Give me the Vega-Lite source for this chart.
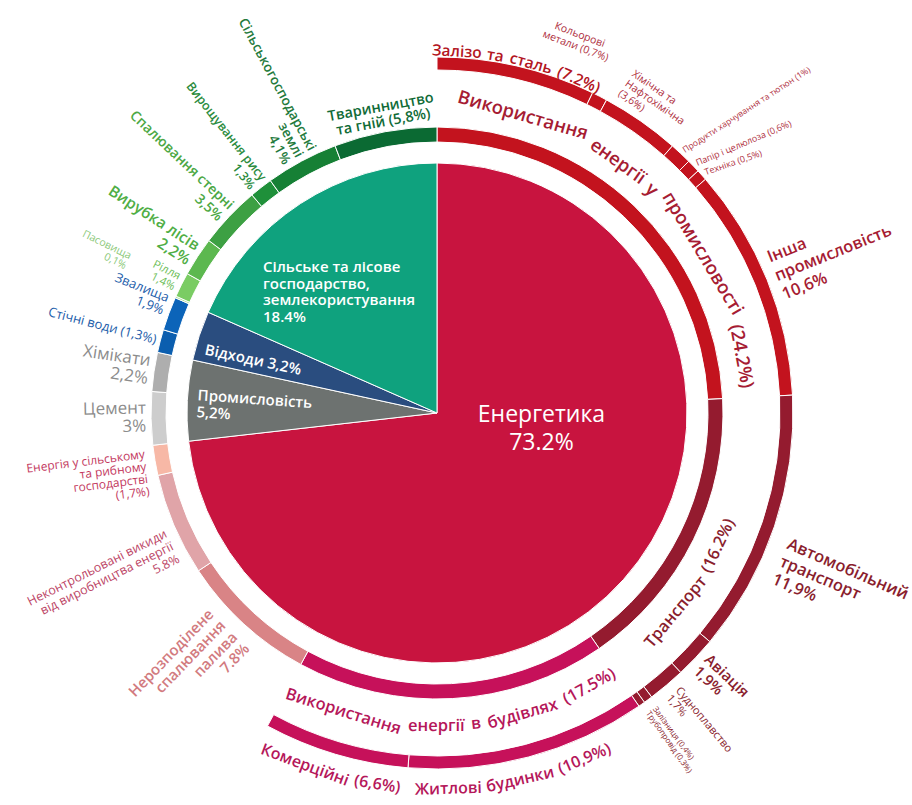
{
  "$schema": "https://vega.github.io/schema/vega-lite/v6.json",
  "width": 874,
  "height": 784,
  "autosize": "none",
  "padding": {"left": 0, "top": 21, "right": 38, "bottom": 0},
  "background": "#ffffff",
  "config": {"view": {"stroke": null}},
  "data": {"values": [
    {"ring": "pie", "name": "Енергетика", "value": 73.2, "label": "Енергетика\n73.2%"},
    {"ring": "pie", "name": "Промисловість", "value": 5.2, "label": "Промисловість\n5,2%"},
    {"ring": "pie", "name": "Відходи", "value": 3.2, "label": "Відходи 3,2%"},
    {"ring": "pie", "name": "Сільське та лісове господарство, землекористування", "value": 18.4, "label": "Сільське та лісове\nгосподарство,\nземлекористування\n18.4%"},
    {"ring": "mid", "name": "Використання енергії у промисловості", "value": 24.2, "label": "Використання енергії у промисловості (24.2%)"},
    {"ring": "mid", "name": "Транспорт", "value": 16.2, "label": "Транспорт (16.2%)"},
    {"ring": "mid", "name": "Використання енергії в будівлях", "value": 17.5, "label": "Використання енергії в будівлях (17.5%)"},
    {"ring": "mid", "name": "Нерозподілене спалювання палива", "value": 7.8, "label": "Нерозподілене\nспалювання\nпалива\n7.8%"},
    {"ring": "mid", "name": "Неконтрольовані викиди від виробництва енергії", "value": 5.8, "label": "Неконтрольовані викиди\nвід виробництва енергії\n5.8%"},
    {"ring": "mid", "name": "Енергія у сільському та рибному господарстві", "value": 1.7, "label": "Енергія у сільському\nта рибному\nгосподарстві\n(1,7%)"},
    {"ring": "mid", "name": "Цемент", "value": 3, "label": "Цемент\n3%"},
    {"ring": "mid", "name": "Хімікати", "value": 2.2, "label": "Хімікати\n2,2%"},
    {"ring": "mid", "name": "Стічні води", "value": 1.3, "label": "Стічні води (1,3%)"},
    {"ring": "mid", "name": "Звалища", "value": 1.9, "label": "Звалища\n1,9%"},
    {"ring": "mid", "name": "Пасовища", "value": 0.1, "label": "Пасовища\n0,1%"},
    {"ring": "mid", "name": "Рілля", "value": 1.4, "label": "Рілля\n1,4%"},
    {"ring": "mid", "name": "Вирубка лісів", "value": 2.2, "label": "Вирубка лісів\n2,2%"},
    {"ring": "mid", "name": "Спалювання стерні", "value": 3.5, "label": "Спалювання стерні\n3,5%"},
    {"ring": "mid", "name": "Вирощування рису", "value": 1.3, "label": "Вирощування рису\n1,3%"},
    {"ring": "mid", "name": "Сільськогосподарські землі", "value": 4.1, "label": "Сільськогосподарські\nземлі\n4,1%"},
    {"ring": "mid", "name": "Тваринництво та гній", "value": 5.8, "label": "Тваринництво\nта гній (5,8%)"},
    {"ring": "out", "name": "Залізо та сталь", "value": 7.2, "label": "Залізо та сталь (7.2%)"},
    {"ring": "out", "name": "Кольорові метали", "value": 0.7, "label": "Кольорові\nметали (0,7%)"},
    {"ring": "out", "name": "Хімічна та нафтохімічна", "value": 3.6, "label": "Хімічна та\nНафтохімічна\n(3,6%)"},
    {"ring": "out", "name": "Продукти харчування та тютюн", "value": 1, "label": "Продукти харчування та тютюн (1%)"},
    {"ring": "out", "name": "Папір і целюлоза", "value": 0.6, "label": "Папір і целюлоза (0,6%)"},
    {"ring": "out", "name": "Техніка", "value": 0.5, "label": "Техніка (0,5%)"},
    {"ring": "out", "name": "Інша промисловість", "value": 10.6, "label": "Інша\nпромисловість\n10,6%"},
    {"ring": "out", "name": "Автомобільний транспорт", "value": 11.9, "label": "Автомобільний\nтранспорт\n11,9%"},
    {"ring": "out", "name": "Авіація", "value": 1.9, "label": "Авіація\n1,9%"},
    {"ring": "out", "name": "Судноплавство", "value": 1.7, "label": "Судноплавство\n1,7%"},
    {"ring": "out", "name": "Залізниця", "value": 0.4, "label": "Залізниця (0,4%)"},
    {"ring": "out", "name": "Трубопровід", "value": 0.3, "label": "Трубопровід (0,3%)"},
    {"ring": "out", "name": "Житлові будинки", "value": 10.9, "label": "Житлові будинки (10,9%)"},
    {"ring": "out", "name": "Комерційні", "value": 6.6, "label": "Комерційні (6,6%)"}
  ]},
  "transform": [
    {"window": [{"op": "row_number", "as": "i"}]},
    {"stack": "value", "groupby": ["ring"], "sort": [{"field": "i", "order": "ascending"}], "as": ["t0", "t1"]},
    {"calculate": "(datum.t0 + datum.t1) / 2", "as": "tm"}
  ],
  "layer": [
    {
      "encoding": {
        "theta": {"field": "t0", "type": "quantitative", "scale": {"domain": [0, 100]}},
        "theta2": {"field": "t1"},
        "color": {"field": "name", "type": "nominal", "legend": null, "scale": {
          "domain": ["Енергетика","Промисловість","Відходи","Сільське та лісове господарство, землекористування","Використання енергії у промисловості","Транспорт","Використання енергії в будівлях","Нерозподілене спалювання палива","Неконтрольовані викиди від виробництва енергії","Енергія у сільському та рибному господарстві","Цемент","Хімікати","Стічні води","Звалища","Пасовища","Рілля","Вирубка лісів","Спалювання стерні","Вирощування рису","Сільськогосподарські землі","Тваринництво та гній","Залізо та сталь","Кольорові метали","Хімічна та нафтохімічна","Продукти харчування та тютюн","Папір і целюлоза","Техніка","Інша промисловість","Автомобільний транспорт","Авіація","Судноплавство","Залізниця","Трубопровід","Житлові будинки","Комерційні"],
          "range": ["#C8143F","#6D7270","#2A4D7F","#0FA27E","#C3131E","#941B2F","#C6115A","#D98486","#E0A4A8","#F7B8A6","#CDCDCD","#AEAEAE","#0B5EAF","#0C64B9","#A5DD8E","#7ACC63","#5CB84F","#3DA043","#1F903A","#168035","#0B6A33","#C3131E","#C3131E","#C3131E","#C3131E","#C3131E","#C3131E","#C3131E","#941B2F","#941B2F","#941B2F","#941B2F","#941B2F","#C6115A","#C6115A"]
        }}
      },
      "layer": [
        {"transform": [{"filter": "datum.ring == 'pie'"}], "mark": {"type": "arc", "radius": 250, "radius2": 0, "stroke": "#ffffff", "strokeWidth": 1}},
        {"transform": [{"filter": "datum.ring == 'mid'"}], "mark": {"type": "arc", "radius": 286, "radius2": 271, "stroke": "#ffffff", "strokeWidth": 1}},
        {"transform": [{"filter": "datum.ring == 'out'"}], "mark": {"type": "arc", "radius": 356, "radius2": 343, "stroke": "#ffffff", "strokeWidth": 1}}
      ]
    },
    {
      "encoding": {
        "theta": {"field": "th", "type": "quantitative", "scale": {"domain": [0, 100]}}
      },
      "layer": [
        {"transform": [{"filter": {"field": "name", "equal": "Енергетика"}}, {"calculate": "datum.tm", "as": "th"}],
         "mark": {"type": "text", "font": "Open Sans", "fontSize": 23, "color": "#ffffff", "radius": 140, "dy": -91, "align": "center", "baseline": "middle", "lineBreak": "\n", "lineHeight": 28},
         "encoding": {"text": {"field": "label", "type": "nominal"}}},
        {"transform": [{"filter": {"field": "name", "equal": "Сільське та лісове господарство, землекористування"}}, {"calculate": "datum.tm", "as": "th"}],
         "mark": {"type": "text", "font": "Open Sans", "fontSize": 15, "fontWeight": 600, "color": "#ffffff", "radius": 150, "dx": -92, "dy": -20, "align": "left", "baseline": "middle", "lineBreak": "\n", "lineHeight": 16.5},
         "encoding": {"text": {"field": "label", "type": "nominal"}}},
        {"transform": [{"filter": {"field": "name", "equal": "Відходи"}}, {"calculate": "datum.tm", "as": "th"}],
         "mark": {"type": "text", "font": "Open Sans", "fontSize": 15, "fontWeight": 600, "color": "#ffffff", "radius": 190, "dx": -2, "dy": 6, "angle": 12, "align": "center", "baseline": "middle"},
         "encoding": {"text": {"field": "label", "type": "nominal"}}},
        {"transform": [{"filter": {"field": "name", "equal": "Промисловість"}}, {"calculate": "datum.tm", "as": "th"}],
         "mark": {"type": "text", "font": "Open Sans", "fontSize": 15, "fontWeight": 600, "color": "#ffffff", "radius": 200, "dx": -40, "dy": -5, "angle": 4, "align": "left", "baseline": "middle", "lineBreak": "\n", "lineHeight": 17},
         "encoding": {"text": {"field": "label", "type": "nominal"}}},

        {"transform": [
          {"filter": {"field": "name", "equal": "Використання енергії у промисловості"}},
          {"calculate": "split(datum.label, ' ')", "as": "w"},
          {"flatten": ["w"]},
          {"window": [{"op": "row_number", "as": "wi"}]},
          {"calculate": "0.62 * length(datum.w) - 0.33 * (length(datum.w) - length(replace(datum.w, regexp('[іїІЇ.,()]', 'g'), ''))) - 0.08 * (length(datum.w) - length(replace(datum.w, regexp('[сгтзуСГТЗУ]', 'g'), ''))) + 0.26 * (length(datum.w) - length(replace(datum.w, regexp('[жшщмюЖШЩМЮ%]', 'g'), ''))) + 0.3", "as": "wl"},
          {"window": [{"op": "sum", "field": "wl", "as": "wc"}], "sort": [{"field": "wi"}]},
          {"joinaggregate": [{"op": "sum", "field": "wl", "as": "wt"}]},
          {"calculate": "datum.wc - (datum.wl + 0.3) / 2 - (datum.wt - 0.3) / 2", "as": "off"},
          {"calculate": "datum.tm + 0.3 + (datum.tm * 3.6 > 90 && datum.tm * 3.6 < 270 ? -1 : 1) * datum.off * 18.5 / 310 * 50 / PI", "as": "th"},
          {"calculate": "datum.th * 3.6 > 90 && datum.th * 3.6 < 270 ? datum.th * 3.6 - 180 : datum.th * 3.6", "as": "a"}],
         "mark": {"type": "text", "font": "Open Sans", "fontSize": 18.5, "fontWeight": 600, "color": "#A61C33", "radius": 310, "align": "center", "baseline": "middle"},
         "encoding": {"text": {"field": "w", "type": "nominal"}, "angle": {"field": "a", "type": "quantitative", "scale": null}}},
        {"transform": [
          {"filter": {"field": "name", "equal": "Транспорт"}},
          {"calculate": "split(datum.label, ' ')", "as": "w"},
          {"flatten": ["w"]},
          {"window": [{"op": "row_number", "as": "wi"}]},
          {"calculate": "0.62 * length(datum.w) - 0.33 * (length(datum.w) - length(replace(datum.w, regexp('[іїІЇ.,()]', 'g'), ''))) - 0.08 * (length(datum.w) - length(replace(datum.w, regexp('[сгтзуСГТЗУ]', 'g'), ''))) + 0.26 * (length(datum.w) - length(replace(datum.w, regexp('[жшщмюЖШЩМЮ%]', 'g'), ''))) + 0.3", "as": "wl"},
          {"window": [{"op": "sum", "field": "wl", "as": "wc"}], "sort": [{"field": "wi"}]},
          {"joinaggregate": [{"op": "sum", "field": "wl", "as": "wt"}]},
          {"calculate": "datum.wc - (datum.wl + 0.3) / 2 - (datum.wt - 0.3) / 2", "as": "off"},
          {"calculate": "datum.tm + 2.1 + (datum.tm * 3.6 > 90 && datum.tm * 3.6 < 270 ? -1 : 1) * datum.off * 16.5 / 311 * 50 / PI", "as": "th"},
          {"calculate": "datum.th * 3.6 > 90 && datum.th * 3.6 < 270 ? datum.th * 3.6 - 180 : datum.th * 3.6", "as": "a"}],
         "mark": {"type": "text", "font": "Open Sans", "fontSize": 16.5, "fontWeight": 600, "color": "#8A1E2E", "radius": 311, "align": "center", "baseline": "middle"},
         "encoding": {"text": {"field": "w", "type": "nominal"}, "angle": {"field": "a", "type": "quantitative", "scale": null}}},
        {"transform": [
          {"filter": {"field": "name", "equal": "Використання енергії в будівлях"}},
          {"calculate": "split(datum.label, ' ')", "as": "w"},
          {"flatten": ["w"]},
          {"window": [{"op": "row_number", "as": "wi"}]},
          {"calculate": "0.62 * length(datum.w) - 0.33 * (length(datum.w) - length(replace(datum.w, regexp('[іїІЇ.,()]', 'g'), ''))) - 0.08 * (length(datum.w) - length(replace(datum.w, regexp('[сгтзуСГТЗУ]', 'g'), ''))) + 0.26 * (length(datum.w) - length(replace(datum.w, regexp('[жшщмюЖШЩМЮ%]', 'g'), ''))) + 0.3", "as": "wl"},
          {"window": [{"op": "sum", "field": "wl", "as": "wc"}], "sort": [{"field": "wi"}]},
          {"joinaggregate": [{"op": "sum", "field": "wl", "as": "wt"}]},
          {"calculate": "datum.wc - (datum.wl + 0.3) / 2 - (datum.wt - 0.3) / 2", "as": "off"},
          {"calculate": "datum.tm + (datum.tm * 3.6 > 90 && datum.tm * 3.6 < 270 ? -1 : 1) * datum.off * 16.5 / 313 * 50 / PI", "as": "th"},
          {"calculate": "datum.th * 3.6 > 90 && datum.th * 3.6 < 270 ? datum.th * 3.6 - 180 : datum.th * 3.6", "as": "a"}],
         "mark": {"type": "text", "font": "Open Sans", "fontSize": 16.5, "fontWeight": 600, "color": "#B5175A", "radius": 313, "align": "center", "baseline": "middle"},
         "encoding": {"text": {"field": "w", "type": "nominal"}, "angle": {"field": "a", "type": "quantitative", "scale": null}}},
        {"transform": [
          {"filter": {"field": "name", "equal": "Залізо та сталь"}},
          {"calculate": "split(datum.label, ' ')", "as": "w"},
          {"flatten": ["w"]},
          {"window": [{"op": "row_number", "as": "wi"}]},
          {"calculate": "0.62 * length(datum.w) - 0.33 * (length(datum.w) - length(replace(datum.w, regexp('[іїІЇ.,()]', 'g'), ''))) - 0.08 * (length(datum.w) - length(replace(datum.w, regexp('[сгтзуСГТЗУ]', 'g'), ''))) + 0.26 * (length(datum.w) - length(replace(datum.w, regexp('[жшщмюЖШЩМЮ%]', 'g'), ''))) + 0.3", "as": "wl"},
          {"window": [{"op": "sum", "field": "wl", "as": "wc"}], "sort": [{"field": "wi"}]},
          {"joinaggregate": [{"op": "sum", "field": "wl", "as": "wt"}]},
          {"calculate": "datum.wc - (datum.wl + 0.3) / 2 - (datum.wt - 0.3) / 2", "as": "off"},
          {"calculate": "datum.tm + (datum.tm * 3.6 > 90 && datum.tm * 3.6 < 270 ? -1 : 1) * datum.off * 15.5 / 362 * 50 / PI", "as": "th"},
          {"calculate": "datum.th * 3.6 > 90 && datum.th * 3.6 < 270 ? datum.th * 3.6 - 180 : datum.th * 3.6", "as": "a"}],
         "mark": {"type": "text", "font": "Open Sans", "fontSize": 15.5, "fontWeight": 600, "color": "#B3161F", "radius": 362, "align": "center", "baseline": "middle"},
         "encoding": {"text": {"field": "w", "type": "nominal"}, "angle": {"field": "a", "type": "quantitative", "scale": null}}},
        {"transform": [
          {"filter": {"field": "name", "equal": "Житлові будинки"}},
          {"calculate": "split(datum.label, ' ')", "as": "w"},
          {"flatten": ["w"]},
          {"window": [{"op": "row_number", "as": "wi"}]},
          {"calculate": "0.62 * length(datum.w) - 0.33 * (length(datum.w) - length(replace(datum.w, regexp('[іїІЇ.,()]', 'g'), ''))) - 0.08 * (length(datum.w) - length(replace(datum.w, regexp('[сгтзуСГТЗУ]', 'g'), ''))) + 0.26 * (length(datum.w) - length(replace(datum.w, regexp('[жшщмюЖШЩМЮ%]', 'g'), ''))) + 0.3", "as": "wl"},
          {"window": [{"op": "sum", "field": "wl", "as": "wc"}], "sort": [{"field": "wi"}]},
          {"joinaggregate": [{"op": "sum", "field": "wl", "as": "wt"}]},
          {"calculate": "datum.wc - (datum.wl + 0.3) / 2 - (datum.wt - 0.3) / 2", "as": "off"},
          {"calculate": "datum.tm + 0.8 + (datum.tm * 3.6 > 90 && datum.tm * 3.6 < 270 ? -1 : 1) * datum.off * 16 / 376 * 50 / PI", "as": "th"},
          {"calculate": "datum.th * 3.6 > 90 && datum.th * 3.6 < 270 ? datum.th * 3.6 - 180 : datum.th * 3.6", "as": "a"}],
         "mark": {"type": "text", "font": "Open Sans", "fontSize": 16, "fontWeight": 600, "color": "#B5175A", "radius": 376, "align": "center", "baseline": "middle"},
         "encoding": {"text": {"field": "w", "type": "nominal"}, "angle": {"field": "a", "type": "quantitative", "scale": null}}},
        {"transform": [
          {"filter": {"field": "name", "equal": "Комерційні"}},
          {"calculate": "split(datum.label, ' ')", "as": "w"},
          {"flatten": ["w"]},
          {"window": [{"op": "row_number", "as": "wi"}]},
          {"calculate": "0.62 * length(datum.w) - 0.33 * (length(datum.w) - length(replace(datum.w, regexp('[іїІЇ.,()]', 'g'), ''))) - 0.08 * (length(datum.w) - length(replace(datum.w, regexp('[сгтзуСГТЗУ]', 'g'), ''))) + 0.26 * (length(datum.w) - length(replace(datum.w, regexp('[жшщмюЖШЩМЮ%]', 'g'), ''))) + 0.3", "as": "wl"},
          {"window": [{"op": "sum", "field": "wl", "as": "wc"}], "sort": [{"field": "wi"}]},
          {"joinaggregate": [{"op": "sum", "field": "wl", "as": "wt"}]},
          {"calculate": "datum.wc - (datum.wl + 0.3) / 2 - (datum.wt - 0.3) / 2", "as": "off"},
          {"calculate": "datum.tm + (datum.tm * 3.6 > 90 && datum.tm * 3.6 < 270 ? -1 : 1) * datum.off * 16 / 376 * 50 / PI", "as": "th"},
          {"calculate": "datum.th * 3.6 > 90 && datum.th * 3.6 < 270 ? datum.th * 3.6 - 180 : datum.th * 3.6", "as": "a"}],
         "mark": {"type": "text", "font": "Open Sans", "fontSize": 16, "fontWeight": 600, "color": "#B5175A", "radius": 376, "align": "center", "baseline": "middle"},
         "encoding": {"text": {"field": "w", "type": "nominal"}, "angle": {"field": "a", "type": "quantitative", "scale": null}}},

        {"transform": [{"filter": {"field": "name", "equal": "Тваринництво та гній"}}, {"calculate": "datum.tm", "as": "th"}, {"calculate": "datum.th * 3.6 > 90 && datum.th * 3.6 < 270 ? datum.th * 3.6 - 180 : datum.th * 3.6", "as": "a"}],
         "mark": {"type": "text", "font": "Open Sans", "fontSize": 14.5, "fontWeight": 600, "color": "#106B37", "radius": 303, "dy": -7.5, "align": "center", "baseline": "middle", "lineBreak": "\n", "lineHeight": 15},
         "encoding": {"text": {"field": "label", "type": "nominal"}, "angle": {"field": "a", "type": "quantitative", "scale": null}}},
        {"transform": [{"filter": {"field": "name", "equal": "Кольорові метали"}}, {"calculate": "datum.tm - 1.8", "as": "th"}, {"calculate": "datum.th * 3.6 > 90 && datum.th * 3.6 < 270 ? datum.th * 3.6 - 180 : datum.th * 3.6", "as": "a"}],
         "mark": {"type": "text", "font": "Open Sans", "fontSize": 10.5, "color": "#B0323F", "radius": 398, "dy": -6, "align": "center", "baseline": "middle", "lineBreak": "\n", "lineHeight": 12},
         "encoding": {"text": {"field": "label", "type": "nominal"}, "angle": {"field": "a", "type": "quantitative", "scale": null}}},
        {"transform": [{"filter": {"field": "name", "equal": "Хімічна та нафтохімічна"}}, {"calculate": "datum.tm", "as": "th"}, {"calculate": "datum.th * 3.6 > 90 && datum.th * 3.6 < 270 ? datum.th * 3.6 - 180 : datum.th * 3.6", "as": "a"}],
         "mark": {"type": "text", "font": "Open Sans", "fontSize": 10.5, "color": "#B0323F", "radius": 379, "dx": -34, "dy": -12, "align": "left", "baseline": "middle", "lineBreak": "\n", "lineHeight": 12},
         "encoding": {"text": {"field": "label", "type": "nominal"}, "angle": {"field": "a", "type": "quantitative", "scale": null}}},
        {"transform": [{"filter": {"field": "name", "equal": "Продукти харчування та тютюн"}}, {"calculate": "datum.tm", "as": "th"}],
         "mark": {"type": "text", "font": "Open Sans", "fontSize": 8.5, "color": "#B0323F", "radius": 360, "angle": -33, "align": "left", "baseline": "middle"},
         "encoding": {"text": {"field": "label", "type": "nominal"}}},
        {"transform": [{"filter": {"field": "name", "equal": "Папір і целюлоза"}}, {"calculate": "datum.tm", "as": "th"}],
         "mark": {"type": "text", "font": "Open Sans", "fontSize": 9, "color": "#B0323F", "radius": 360, "angle": -23, "align": "left", "baseline": "middle"},
         "encoding": {"text": {"field": "label", "type": "nominal"}}},
        {"transform": [{"filter": {"field": "name", "equal": "Техніка"}}, {"calculate": "datum.tm", "as": "th"}],
         "mark": {"type": "text", "font": "Open Sans", "fontSize": 9, "color": "#B0323F", "radius": 360, "angle": -19, "align": "left", "baseline": "middle"},
         "encoding": {"text": {"field": "label", "type": "nominal"}}},
        {"transform": [{"filter": {"field": "name", "equal": "Інша промисловість"}}, {"calculate": "datum.tm", "as": "th"}, {"calculate": "datum.th * 3.6 < 180 ? datum.th * 3.6 - 90 : datum.th * 3.6 - 270", "as": "a"}],
         "mark": {"type": "text", "font": "Open Sans", "fontSize": 16.5, "fontWeight": 600, "color": "#A61C33", "radius": 365, "dy": -20, "align": "left", "baseline": "middle", "lineBreak": "\n", "lineHeight": 20},
         "encoding": {"text": {"field": "label", "type": "nominal"}, "angle": {"field": "a", "type": "quantitative", "scale": null}}},
        {"transform": [{"filter": {"field": "name", "equal": "Автомобільний транспорт"}}, {"calculate": "datum.tm + 1.33", "as": "th"}, {"calculate": "datum.th * 3.6 < 180 ? datum.th * 3.6 - 90 : datum.th * 3.6 - 270", "as": "a"}],
         "mark": {"type": "text", "font": "Open Sans", "fontSize": 16.5, "fontWeight": 600, "color": "#8A1E2E", "radius": 374, "dy": -19, "align": "left", "baseline": "middle", "lineBreak": "\n", "lineHeight": 19},
         "encoding": {"text": {"field": "label", "type": "nominal"}, "angle": {"field": "a", "type": "quantitative", "scale": null}}},
        {"transform": [{"filter": {"field": "name", "equal": "Авіація"}}, {"calculate": "datum.tm", "as": "th"}, {"calculate": "datum.th * 3.6 < 180 ? datum.th * 3.6 - 90 : datum.th * 3.6 - 270", "as": "a"}],
         "mark": {"type": "text", "font": "Open Sans", "fontSize": 15, "fontWeight": 600, "color": "#8A1E2E", "radius": 364, "dy": -8, "align": "left", "baseline": "middle", "lineBreak": "\n", "lineHeight": 16},
         "encoding": {"text": {"field": "label", "type": "nominal"}, "angle": {"field": "a", "type": "quantitative", "scale": null}}},
        {"transform": [{"filter": {"field": "name", "equal": "Судноплавство"}}, {"calculate": "datum.tm", "as": "th"}, {"calculate": "datum.th * 3.6 < 180 ? datum.th * 3.6 - 90 : datum.th * 3.6 - 270", "as": "a"}],
         "mark": {"type": "text", "font": "Open Sans", "fontSize": 11, "color": "#8A1E2E", "radius": 366, "dy": -6, "align": "left", "baseline": "middle", "lineBreak": "\n", "lineHeight": 12},
         "encoding": {"text": {"field": "label", "type": "nominal"}, "angle": {"field": "a", "type": "quantitative", "scale": null}}},
        {"transform": [{"filter": {"field": "name", "oneOf": ["Залізниця", "Трубопровід"]}}, {"calculate": "datum.tm", "as": "th"}, {"calculate": "datum.th * 3.6 < 180 ? datum.th * 3.6 - 90 : datum.th * 3.6 - 270", "as": "a"}],
         "mark": {"type": "text", "font": "Open Sans", "fontSize": 8, "color": "#8A1E2E", "radius": 366, "align": "left", "baseline": "middle"},
         "encoding": {"text": {"field": "label", "type": "nominal"}, "angle": {"field": "a", "type": "quantitative", "scale": null}}},

        {"transform": [{"filter": {"field": "name", "equal": "Нерозподілене спалювання палива"}}, {"calculate": "datum.tm + 0.4", "as": "th"}, {"calculate": "datum.th * 3.6 < 180 ? datum.th * 3.6 - 90 : datum.th * 3.6 - 270", "as": "a"}],
         "mark": {"type": "text", "font": "Open Sans", "fontSize": 15, "fontWeight": 600, "color": "#D27B80", "radius": 300, "dy": -25, "align": "right", "baseline": "middle", "lineBreak": "\n", "lineHeight": 16.5},
         "encoding": {"text": {"field": "label", "type": "nominal"}, "angle": {"field": "a", "type": "quantitative", "scale": null}}},
        {"transform": [{"filter": {"field": "name", "equal": "Неконтрольовані викиди від виробництва енергії"}}, {"calculate": "datum.tm - 1", "as": "th"}, {"calculate": "datum.th * 3.6 < 180 ? datum.th * 3.6 - 90 : datum.th * 3.6 - 270", "as": "a"}],
         "mark": {"type": "text", "font": "Open Sans", "fontSize": 12.5, "color": "#BC4566", "radius": 296, "dy": -14, "align": "right", "baseline": "middle", "lineBreak": "\n", "lineHeight": 14},
         "encoding": {"text": {"field": "label", "type": "nominal"}, "angle": {"field": "a", "type": "quantitative", "scale": null}}},
        {"transform": [{"filter": {"field": "name", "equal": "Енергія у сільському та рибному господарстві"}}, {"calculate": "datum.tm - 0.6", "as": "th"}],
         "mark": {"type": "text", "font": "Open Sans", "fontSize": 12, "color": "#C3385E", "radius": 296, "dy": -19, "angle": -7, "align": "right", "baseline": "middle", "lineBreak": "\n", "lineHeight": 12.5},
         "encoding": {"text": {"field": "label", "type": "nominal"}}},
        {"transform": [{"filter": {"field": "name", "oneOf": ["Цемент", "Хімікати"]}}, {"calculate": "datum.tm", "as": "th"}, {"calculate": "datum.th * 3.6 < 180 ? datum.th * 3.6 - 90 : datum.th * 3.6 - 270", "as": "a"}],
         "mark": {"type": "text", "font": "Open Sans", "fontSize": 17, "color": "#8C8C8C", "radius": 291, "dy": -10, "align": "right", "baseline": "middle", "lineBreak": "\n", "lineHeight": 18},
         "encoding": {"text": {"field": "label", "type": "nominal"}, "angle": {"field": "a", "type": "quantitative", "scale": null}}},
        {"transform": [{"filter": {"field": "name", "equal": "Стічні води"}}, {"calculate": "datum.tm", "as": "th"}, {"calculate": "datum.th * 3.6 < 180 ? datum.th * 3.6 - 90 : datum.th * 3.6 - 270", "as": "a"}],
         "mark": {"type": "text", "font": "Open Sans", "fontSize": 13, "color": "#1C5DAA", "radius": 290, "align": "right", "baseline": "middle"},
         "encoding": {"text": {"field": "label", "type": "nominal"}, "angle": {"field": "a", "type": "quantitative", "scale": null}}},
        {"transform": [{"filter": {"field": "name", "equal": "Звалища"}}, {"calculate": "datum.tm + 0.4", "as": "th"}, {"calculate": "datum.th * 3.6 < 180 ? datum.th * 3.6 - 90 : datum.th * 3.6 - 270", "as": "a"}],
         "mark": {"type": "text", "font": "Open Sans", "fontSize": 13, "color": "#1C5DAA", "radius": 292, "dy": -6.75, "align": "right", "baseline": "middle", "lineBreak": "\n", "lineHeight": 13.5},
         "encoding": {"text": {"field": "label", "type": "nominal"}, "angle": {"field": "a", "type": "quantitative", "scale": null}}},
        {"transform": [{"filter": {"field": "name", "equal": "Пасовища"}}, {"calculate": "datum.tm + 0.6", "as": "th"}, {"calculate": "datum.th * 3.6 < 180 ? datum.th * 3.6 - 90 : datum.th * 3.6 - 270", "as": "a"}],
         "mark": {"type": "text", "font": "Open Sans", "fontSize": 10.5, "color": "#8CC97A", "radius": 344, "dy": -5.5, "align": "right", "baseline": "middle", "lineBreak": "\n", "lineHeight": 11},
         "encoding": {"text": {"field": "label", "type": "nominal"}, "angle": {"field": "a", "type": "quantitative", "scale": null}}},
        {"transform": [{"filter": {"field": "name", "equal": "Рілля"}}, {"calculate": "datum.tm", "as": "th"}, {"calculate": "datum.th * 3.6 < 180 ? datum.th * 3.6 - 90 : datum.th * 3.6 - 270", "as": "a"}],
         "mark": {"type": "text", "font": "Open Sans", "fontSize": 11.5, "color": "#6DBE58", "radius": 291, "dy": -6, "align": "right", "baseline": "middle", "lineBreak": "\n", "lineHeight": 12},
         "encoding": {"text": {"field": "label", "type": "nominal"}, "angle": {"field": "a", "type": "quantitative", "scale": null}}},
        {"transform": [{"filter": {"field": "name", "equal": "Вирубка лісів"}}, {"calculate": "datum.tm", "as": "th"}, {"calculate": "datum.th * 3.6 < 180 ? datum.th * 3.6 - 90 : datum.th * 3.6 - 270", "as": "a"}],
         "mark": {"type": "text", "font": "Open Sans", "fontSize": 15.5, "fontWeight": 600, "color": "#4FAE45", "radius": 291, "dy": -8.5, "align": "right", "baseline": "middle", "lineBreak": "\n", "lineHeight": 17},
         "encoding": {"text": {"field": "label", "type": "nominal"}, "angle": {"field": "a", "type": "quantitative", "scale": null}}},
        {"transform": [{"filter": {"field": "name", "equal": "Спалювання стерні"}}, {"calculate": "datum.tm", "as": "th"}, {"calculate": "datum.th * 3.6 < 180 ? datum.th * 3.6 - 90 : datum.th * 3.6 - 270", "as": "a"}],
         "mark": {"type": "text", "font": "Open Sans", "fontSize": 14, "fontWeight": 600, "color": "#4CA844", "radius": 291, "dy": -8, "align": "right", "baseline": "middle", "lineBreak": "\n", "lineHeight": 16},
         "encoding": {"text": {"field": "label", "type": "nominal"}, "angle": {"field": "a", "type": "quantitative", "scale": null}}},
        {"transform": [{"filter": {"field": "name", "equal": "Вирощування рису"}}, {"calculate": "datum.tm", "as": "th"}, {"calculate": "datum.th * 3.6 < 180 ? datum.th * 3.6 - 90 : datum.th * 3.6 - 270", "as": "a"}],
         "mark": {"type": "text", "font": "Open Sans", "fontSize": 12.5, "fontWeight": 600, "color": "#2B8C3E", "radius": 291, "dy": -7, "align": "right", "baseline": "middle", "lineBreak": "\n", "lineHeight": 14},
         "encoding": {"text": {"field": "label", "type": "nominal"}, "angle": {"field": "a", "type": "quantitative", "scale": null}}},
        {"transform": [{"filter": {"field": "name", "equal": "Сільськогосподарські землі"}}, {"calculate": "datum.tm", "as": "th"}, {"calculate": "datum.th * 3.6 < 180 ? datum.th * 3.6 - 90 : datum.th * 3.6 - 270", "as": "a"}],
         "mark": {"type": "text", "font": "Open Sans", "fontSize": 13.5, "fontWeight": 600, "color": "#237A3C", "radius": 291, "dy": -14.5, "align": "right", "baseline": "middle", "lineBreak": "\n", "lineHeight": 14.5},
         "encoding": {"text": {"field": "label", "type": "nominal"}, "angle": {"field": "a", "type": "quantitative", "scale": null}}}
      ]
    }
  ]
}
